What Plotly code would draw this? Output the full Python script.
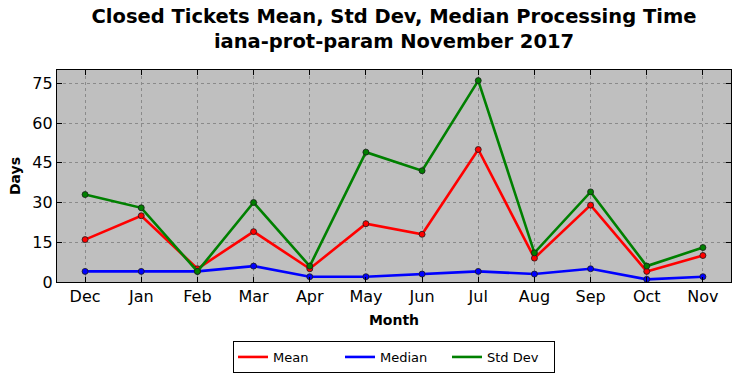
import plotly.graph_objects as go

months = ["Dec", "Jan", "Feb", "Mar", "Apr", "May", "Jun", "Jul", "Aug", "Sep", "Oct", "Nov"]
mean_days = [16, 25, 5, 19, 5, 22, 18, 50, 9, 29, 4, 10]
median_days = [4, 4, 4, 6, 2, 2, 3, 4, 3, 5, 1, 2]
std_days = [33, 28, 4, 30, 6, 49, 42, 76, 11, 34, 6, 13]
y_ticks = [0, 15, 30, 45, 60, 75]

FONT = "DejaVu Sans"
x_idx = list(range(len(months)))
series = [("Mean", mean_days, "#ff0000"),
          ("Median", median_days, "#0000ff"),
          ("Std Dev", std_days, "#008000")]

fig = go.Figure()
for name, vals, col in series:
    fig.add_trace(go.Scatter(
        x=x_idx, y=vals, name=name, mode="lines+markers", showlegend=False,
        legendgroup=name,
        line=dict(color=col, width=2.6),
        marker=dict(size=6, color=col, line=dict(color="#1a1a1a", width=0.8)),
    ))
for name, vals, col in series:
    fig.add_trace(go.Scatter(
        x=[None], y=[None], name=name, mode="lines", legendgroup=name,
        line=dict(color=col, width=2.6),
    ))

fig.update_layout(
    width=741, height=378,
    margin=dict(l=57, r=10, t=70, b=96, autoexpand=False),
    paper_bgcolor="white",
    plot_bgcolor="#bfbfbf",
    font=dict(family=FONT, color="black"),
    title=dict(
        text="<b>Closed Tickets Mean, Std Dev, Median Processing Time<br>iana-prot-param November 2017</b>",
        x=0.5, xref="paper", xanchor="center",
        y=0.94, yref="container", yanchor="top",
        font=dict(family=FONT, size=19.5, color="black"),
    ),
    xaxis=dict(
        range=[-0.5, 11.5], automargin=False,
        tickmode="array", tickvals=x_idx, ticktext=months,
        tickfont=dict(size=16, family=FONT),
        showgrid=True, gridcolor="#8a8a8a", griddash="dot", gridwidth=1,
        ticks="inside", ticklen=5, tickcolor="black",
        showline=True, linecolor="black", linewidth=1.2, mirror="ticks",
        zeroline=False,
        title=dict(text="<b>Month</b>", font=dict(size=14, family=FONT), standoff=9),
    ),
    yaxis=dict(
        range=[0, 80], automargin=False,
        tickmode="array", tickvals=y_ticks,
        tickfont=dict(size=16, family=FONT),
        showgrid=True, gridcolor="#8a8a8a", griddash="dot", gridwidth=1,
        ticks="inside", ticklen=5, tickcolor="black",
        showline=True, linecolor="black", linewidth=1.2, mirror="ticks",
        zeroline=False,
        title=dict(text="<b>Days</b>", font=dict(size=14, family=FONT), standoff=8),
    ),
    legend=dict(
        orientation="h",
        x=0.5, xanchor="center", xref="paper",
        y=1 - 341 / 378, yanchor="top", yref="container",
        bordercolor="black", borderwidth=1,
        bgcolor="white",
        font=dict(size=13, family=FONT),
        entrywidth=62,
    ),
    showlegend=True,
)

fig.write_html(
    "out.html",
    config={"displayModeBar": False},
    post_script="document.body.style.margin='0';document.body.style.overflow='hidden';",
)
